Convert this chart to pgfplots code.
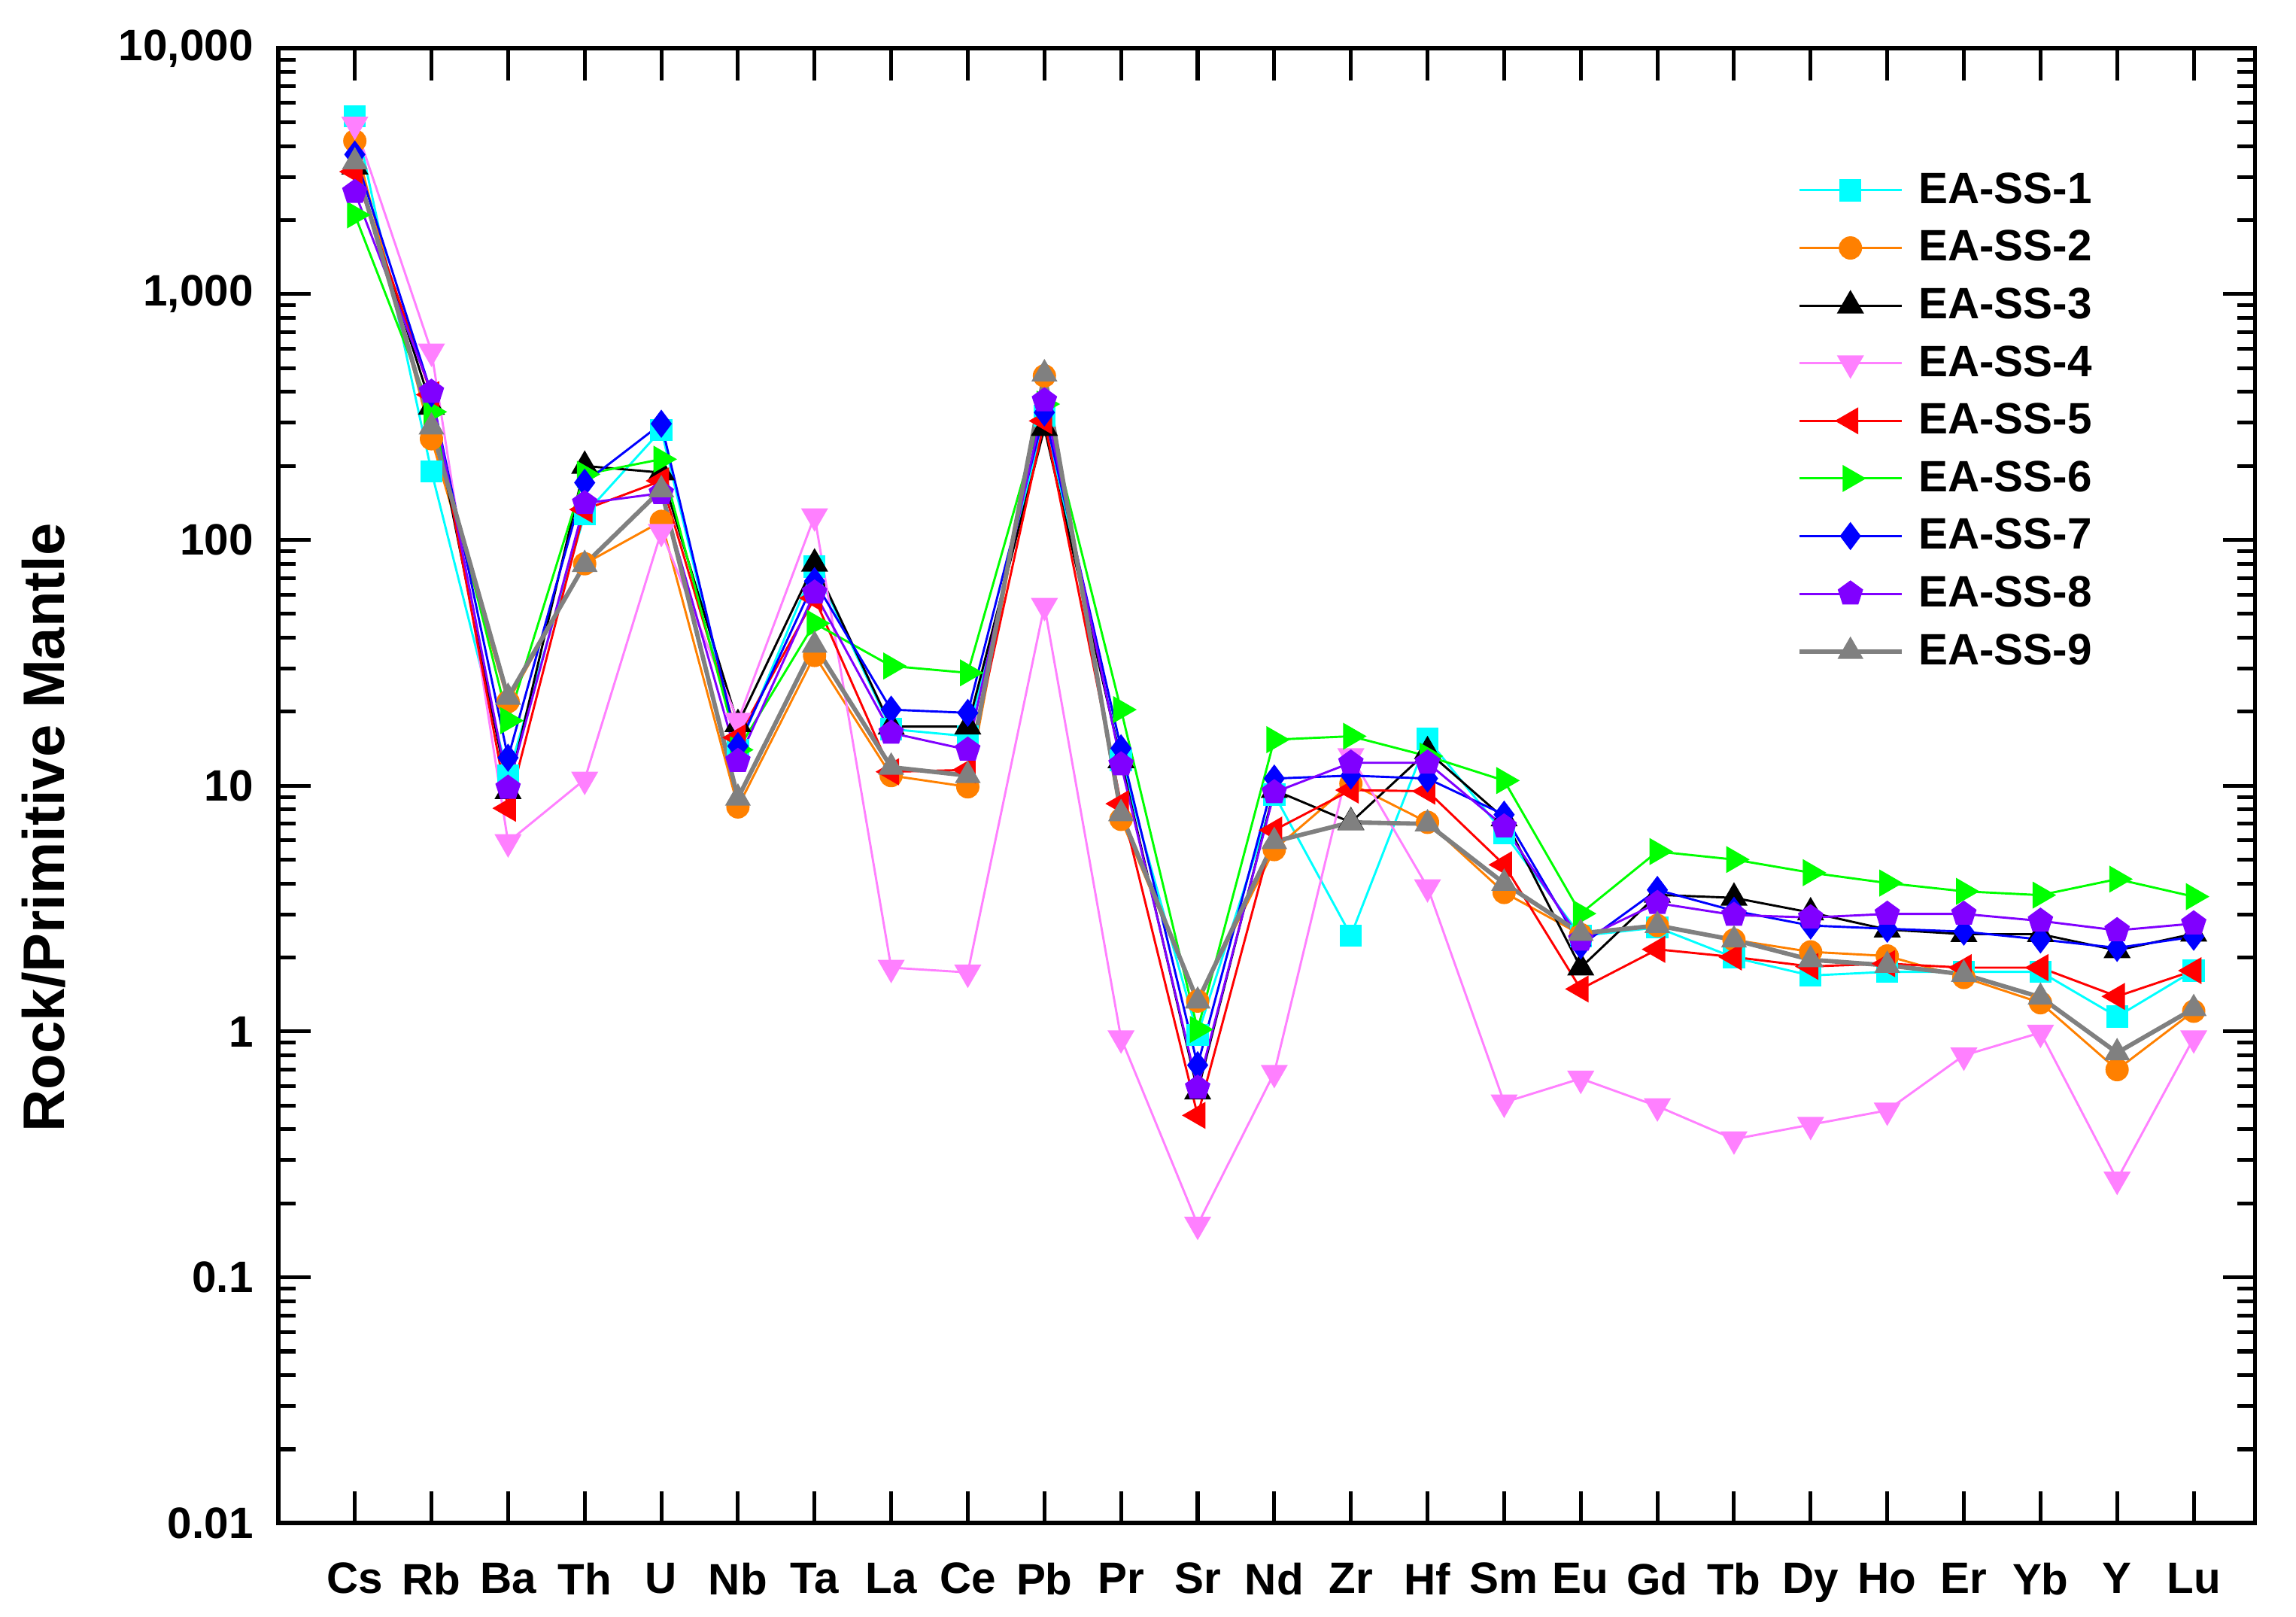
\documentclass[border=0pt]{standalone}
\usepackage{fontspec}
\setmainfont{Liberation Sans}
\usepackage{pgfplots}
\usepackage{pgfplotstable}
\pgfplotsset{compat=1.18}
\usetikzlibrary{plotmarks}
\definecolor{cS1}{RGB}{0,255,255}
\definecolor{cS2}{RGB}{255,128,0}
\definecolor{cS3}{RGB}{0,0,0}
\definecolor{cS4}{RGB}{255,128,255}
\definecolor{cS5}{RGB}{255,0,0}
\definecolor{cS6}{RGB}{0,255,0}
\definecolor{cS7}{RGB}{0,0,255}
\definecolor{cS8}{RGB}{128,0,255}
\definecolor{cS9}{RGB}{128,128,128}
\pgfplotstableread{
x s1 s2 s3 s4 s5 s6 s7 s8 s9
0 5300 4200 3300 4900 3150 2100 3700 2600 3450
1 190 258 348 585 390 332 395 400 288
2 11 22 9.5 5.9 8.1 18.4 13 9.8 22.9
3 127 80 200 10.6 133 185 171 141 79.5
4 280 119 188 108 174 213 297 155 160
5 14 8.2 17.8 18.4 15.7 14 14.5 12.6 8.9
6 78 33.9 80 125 58 45.8 68 61 37.3
7 17 11.0 17.4 1.82 11.4 30.7 20.4 16.4 11.9
8 15.9 9.9 17.4 1.74 11.6 28.8 19.8 14.0 11.0
9 320 465 285 54 305 357 330 369 474
10 12.7 7.3 12.7 0.94 8.45 20.4 14.2 12.2 7.7
11 0.97 1.33 0.57 0.164 0.456 1.02 0.73 0.59 1.33
12 9.2 5.5 9.6 0.68 6.6 15.4 10.7 9.4 5.93
13 2.46 10.2 7.1 13.2 9.6 15.9 11.0 12.4 7.1
14 15.5 7.1 13.8 3.87 9.5 13.2 10.7 12.4 7.0
15 6.4 3.68 7.36 0.515 4.77 10.5 7.63 6.82 4.01
16 2.45 2.48 1.82 0.644 1.49 3.02 2.24 2.36 2.51
17 2.65 2.7 3.6 0.497 2.16 5.4 3.77 3.33 2.7
18 2.0 2.36 3.5 0.365 2.01 5.01 3.1 2.98 2.36
19 1.69 2.11 3.05 0.418 1.84 4.43 2.7 2.91 1.96
20 1.75 2.03 2.6 0.478 1.89 4.02 2.62 3.01 1.86
21 1.75 1.66 2.49 0.80 1.82 3.72 2.55 3.01 1.71
22 1.75 1.31 2.49 0.99 1.82 3.59 2.37 2.82 1.38
23 1.15 0.70 2.14 0.25 1.39 4.17 2.19 2.58 0.82
24 1.77 1.21 2.5 0.94 1.77 3.54 2.43 2.75 1.24
}\datatable
\begin{document}
\begin{tikzpicture}
\useasboundingbox (-95pt,-32pt) rectangle (689pt,520pt);
\begin{semilogyaxis}[
  at={(0pt,0pt)}, anchor=south west,
  scale only axis, width=675pt, height=503.5pt,
  xmin=-1, xmax=24.8, ymin=0.01, ymax=10000,
  axis line style={line width=1.5pt},
  every tick/.style={black, line width=1.3pt},
  tick align=inside,
  xtick pos=both, ytick pos=both,
  xticklabel pos=lower, yticklabel pos=left,
  major tick length=11pt, minor tick length=6pt,
  xtick={0,...,24},
  xticklabels={Cs,Rb,Ba,Th,U,Nb,Ta,La,Ce,Pb,Pr,Sr,Nd,Zr,Hf,Sm,Eu,Gd,Tb,Dy,Ho,Er,Yb,Y,Lu},
  ytick={0.01,0.1,1,10,100,1000,10000},
  yticklabels={0.01,0.1,1,10,100,{1,000},{10,000}},
  minor ytick={0.02,0.03,0.04,0.05,0.06,0.07,0.08,0.09,
    0.2,0.3,0.4,0.5,0.6,0.7,0.8,0.9,
    2,3,4,5,6,7,8,9,
    20,30,40,50,60,70,80,90,
    200,300,400,500,600,700,800,900,
    2000,3000,4000,5000,6000,7000,8000,9000},
  tick label style={font=\bfseries\fontsize{15}{18}\selectfont},
  yticklabel style={xshift=-5pt},
  xticklabel style={yshift=-10pt},
  ylabel={Rock/Primitive Mantle},
  ylabel style={at={(axis description cs:-0.1185,0.4717)}, anchor=center, rotate=0, font=\bfseries\fontsize{20}{24}\selectfont},
  legend image code/.code={\draw[mark repeat=2,mark phase=2,#1] plot coordinates {(0pt,0pt) (17.5pt,0pt) (35pt,0pt)};},
  legend style={draw=none, fill=none, at={(rel axis cs:0.768,0.918)}, anchor=north west,
    font=\bfseries\fontsize{15}{18}\selectfont, row sep=5.7pt, inner sep=0pt,
    nodes={inner sep=1pt},
    /tikz/every odd column/.append style={column sep=4pt}},
  legend cell align=left,
]
\addplot[cS1, line width=0.75pt, mark=square*, mark size=3.4pt, mark options={solid}] table[x=x,y=s1]{\datatable};
\addlegendentry{EA-SS-1}
\addplot[cS2, line width=0.75pt, mark=*, mark size=3.6pt, mark options={solid}] table[x=x,y=s2]{\datatable};
\addlegendentry{EA-SS-2}
\addplot[cS3, line width=0.75pt, mark=triangle*, mark size=4.6pt, mark options={solid}] table[x=x,y=s3]{\datatable};
\addlegendentry{EA-SS-3}
\addplot[cS4, line width=0.75pt, mark=triangle*, mark size=4.6pt, mark options={solid, rotate=180}] table[x=x,y=s4]{\datatable};
\addlegendentry{EA-SS-4}
\addplot[cS5, line width=0.75pt, mark=triangle*, mark size=4.6pt, mark options={solid, rotate=90}] table[x=x,y=s5]{\datatable};
\addlegendentry{EA-SS-5}
\addplot[cS6, line width=0.75pt, mark=triangle*, mark size=4.6pt, mark options={solid, rotate=-90}] table[x=x,y=s6]{\datatable};
\addlegendentry{EA-SS-6}
\addplot[cS7, line width=0.75pt, mark=diamond*, mark size=4.2pt, mark options={solid}] table[x=x,y=s7]{\datatable};
\addlegendentry{EA-SS-7}
\addplot[cS8, line width=0.75pt, mark=pentagon*, mark size=4.1pt, mark options={solid}] table[x=x,y=s8]{\datatable};
\addlegendentry{EA-SS-8}
\addplot[cS9, line width=1.5pt, mark=triangle*, mark size=4.6pt, mark options={solid, line width=0.5pt}] table[x=x,y=s9]{\datatable};
\addlegendentry{EA-SS-9}
\end{semilogyaxis}
\end{tikzpicture}
\end{document}
